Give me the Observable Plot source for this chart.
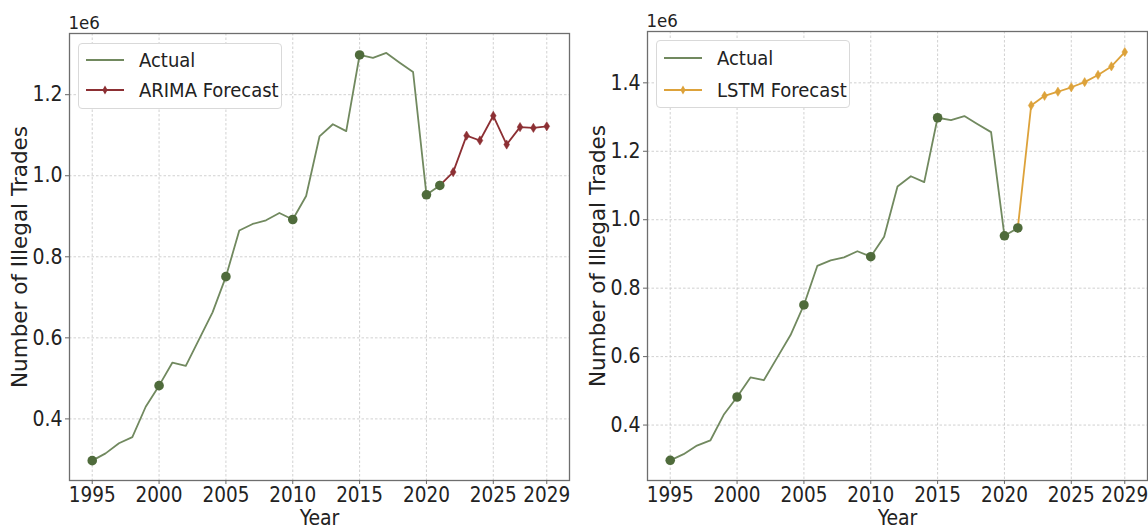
<!DOCTYPE html>
<html><head><meta charset="utf-8">
<script src="https://cdn.jsdelivr.net/npm/d3@7"></script>
<script src="https://cdn.jsdelivr.net/npm/@observablehq/plot@0.6"></script>
<style>
body{margin:0;background:#fff;}
#wrap{position:relative;width:1148px;height:529px;overflow:hidden;font-family:"DejaVu Sans Condensed","DejaVu Sans",sans-serif;color:#222;}
.panel{position:absolute;top:0;}
.legend{position:absolute;background:#fff;border:1px solid #d9d9d9;border-radius:4px;font-size:20px;box-sizing:border-box;}
.legend .row{position:absolute;display:flex;align-items:center;height:28px;white-space:nowrap;}
.legend svg{display:block;}
</style></head><body><div id="wrap"></div>
<script>
// ---- data ----
const actualYears = [1995,1996,1997,1998,1999,2000,2001,2002,2003,2004,2005,2006,2007,2008,2009,2010,2011,2012,2013,2014,2015,2016,2017,2018,2019,2020,2021];
const actualValues = [297000,315000,340000,355000,430000,482000,539000,531000,597000,663000,751000,865000,881000,890000,908000,892000,950000,1097000,1127000,1110000,1298000,1291000,1303000,1279000,1256000,953000,976000];
const markerYears = [1995,2000,2005,2010,2015,2020,2021];
const forecastYears = [2021,2022,2023,2024,2025,2026,2027,2028,2029];
const arimaValues = [976000,1009000,1099000,1087000,1148000,1077000,1120000,1118000,1122000];
const lstmValues = [976000,1334000,1362000,1374000,1387000,1402000,1423000,1448000,1490000];
const xTickValues = [1995,2000,2005,2010,2015,2020,2025,2029];
const yTicksArima = [0.4,0.6,0.8,1.0,1.2];
const yTicksLstm = [0.4,0.6,0.8,1.0,1.2,1.4];
const seriesNames = {actual:"Actual", arima:"ARIMA Forecast", lstm:"LSTM Forecast"};

const actual = actualYears.map((year,i)=>({year, v:actualValues[i]}));
const arima = forecastYears.map((year,i)=>({year, v:arimaValues[i]}));
const lstm = forecastYears.map((year,i)=>({year, v:lstmValues[i]}));

const FONT = '"DejaVu Sans Condensed","DejaVu Sans",sans-serif';
const GREEN_LINE = "#71895f", GREEN_DOT = "#4f6b3b";

const thinDiamond = {draw(ctx, size){
  const h = Math.sqrt(size)*0.62, w = h*0.62;
  ctx.moveTo(0,-h); ctx.lineTo(w,0); ctx.lineTo(0,h); ctx.lineTo(-w,0); ctx.closePath();
}};

function makePanel({forecast, color, yDomain, yTicks, width, ml, mr, mt}){
  return Plot.plot({
    width, height:529, marginLeft:ml, marginRight:mr, marginTop:mt, marginBottom:49,
    style:{fontFamily:FONT, fontSize:"19px", color:"#222", background:"transparent", overflow:"visible"},
    x:{domain:[1993.3,2030.7]},
    y:{domain:yDomain},
    marks:[
      Plot.gridX(xTickValues,{stroke:"#cccccc", strokeOpacity:1, strokeWidth:0.9, strokeDasharray:"2.5,2"}),
      Plot.gridY(yTicks,{stroke:"#cccccc", strokeOpacity:1, strokeWidth:0.9, strokeDasharray:"2.5,2"}),
      Plot.frame({stroke:"#6e6e6e", strokeWidth:1.3}),
      Plot.axisX(xTickValues,{tickFormat:d=>String(d), tickSize:4, tickPadding:3, stroke:"#666", fontSize:20.5, fill:"#222",
        label:null}),
      Plot.axisY(yTicks,{tickFormat:d3.format(".1f"), tickSize:4, tickPadding:3, stroke:"#666", fontSize:21, fill:"#222",
        label:null}),
      Plot.text(["Year"],{frameAnchor:"bottom", lineAnchor:"bottom", dy:44, fontSize:21, fill:"#222"}),
      Plot.text(["Number of Illegal Trades"],{frameAnchor:"left", rotate:-90, lineAnchor:"top", textAnchor:"middle", dx:-58, fontSize:21.5, fill:"#222", fontFamily:"DejaVu Sans"}),
      Plot.line(actual,{x:"year", y:d=>d.v/1e6, stroke:GREEN_LINE, strokeWidth:1.8}),
      Plot.line(forecast,{x:"year", y:d=>d.v/1e6, stroke:color, strokeWidth:1.8}),
      Plot.dot(forecast,{x:"year", y:d=>d.v/1e6, symbol:thinDiamond, r:4.2, fill:color, stroke:color, strokeWidth:0.5}),
      Plot.dot(actual.filter(d=>markerYears.includes(d.year)),{x:"year", y:d=>d.v/1e6, r:4.8, fill:GREEN_DOT}),
      Plot.text(["1e6"],{frameAnchor:"top-left", lineAnchor:"bottom", textAnchor:"start", dy:-5, dx:-1, fontSize:18.5, fill:"#222"})
    ]
  });
}

function swatch(color, marker){
  const s = d3.create("svg").attr("width",40).attr("height",12);
  s.append("line").attr("x1",1).attr("x2",39).attr("y1",6).attr("y2",6).attr("stroke",color).attr("stroke-width",1.8);
  if(marker) s.append("path").attr("d","M20,1.5L22.6,6L20,10.5L17.4,6Z").attr("fill",color);
  return s.node();
}

function legend(parent, {left, top, width, height, rows}){
  const box = document.createElement("div");
  box.className = "legend";
  Object.assign(box.style,{left:left+"px", top:top+"px", width:width+"px", height:height+"px"});
  rows.forEach((r,i)=>{
    const row = document.createElement("div");
    row.className = "row";
    Object.assign(row.style,{left:"6px", top:(r.cy-14)+"px"});
    row.appendChild(swatch(r.color, r.marker));
    const t = document.createElement("span");
    t.textContent = r.label; t.style.marginLeft = "14px";
    row.appendChild(t);
    box.appendChild(row);
  });
  parent.appendChild(box);
}

const wrap = document.getElementById("wrap");
const left = document.createElement("div"); left.className="panel"; left.style.left="0px";
left.appendChild(makePanel({forecast:arima, color:"#8c2f33", yDomain:[0.248,1.351], yTicks:yTicksArima, width:575, ml:69, mr:6, mt:33}));
wrap.appendChild(left);
const right = document.createElement("div"); right.className="panel"; right.style.left="575px";
right.appendChild(makePanel({forecast:lstm, color:"#dda23a", yDomain:[0.238,1.55], yTicks:yTicksLstm, width:573, ml:72, mr:1, mt:31}));
wrap.appendChild(right);

legend(wrap,{left:78, top:43, width:204, height:66, rows:[
  {label:seriesNames.actual, color:GREEN_LINE, marker:false, cy:16},
  {label:seriesNames.arima, color:"#8c2f33", marker:true, cy:46}]});
legend(wrap,{left:656, top:40, width:194, height:68, rows:[
  {label:seriesNames.actual, color:GREEN_LINE, marker:false, cy:17},
  {label:seriesNames.lstm, color:"#dda23a", marker:true, cy:49}]});
</script></body></html>
